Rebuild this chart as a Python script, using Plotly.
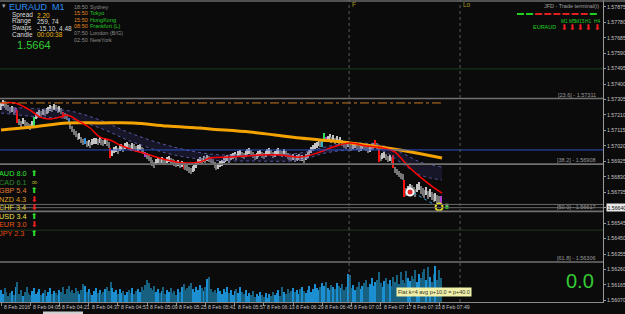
import plotly.graph_objects as go

# ---------------- data ----------------
minutes = list(range(242))
high = [1.57284,1.57302,1.57296,1.57277,1.57271,1.57259,1.57265,1.57253,1.57253,1.57240,
1.57185,1.57173,1.57191,1.57179,1.57167,1.57161,1.57154,1.57173,1.57197,1.57222,
1.57228,1.57240,1.57234,1.57247,1.57240,1.57253,1.57259,1.57271,1.57265,1.57277,
1.57271,1.57259,1.57265,1.57253,1.57228,1.57222,1.57216,1.57191,1.57167,1.57142,
1.57124,1.57111,1.57093,1.57099,1.57074,1.57062,1.57068,1.57050,1.57056,1.57044,
1.57062,1.57068,1.57068,1.57062,1.57074,1.57062,1.57056,1.57068,1.57056,1.57044,
1.57007,1.56995,1.57013,1.57019,1.57007,1.57025,1.57031,1.57019,1.57038,1.57044,
1.57031,1.57025,1.57038,1.57031,1.57019,1.57025,1.57031,1.57013,1.57007,1.56982,
1.56976,1.56964,1.56951,1.56933,1.56921,1.56939,1.56951,1.56945,1.56951,1.56945,
1.56939,1.56951,1.56958,1.56945,1.56939,1.56933,1.56927,1.56933,1.56921,1.56927,
1.56921,1.56908,1.56902,1.56890,1.56884,1.56896,1.56902,1.56921,1.56939,1.56951,
1.56945,1.56958,1.56951,1.56964,1.56958,1.56951,1.56939,1.56921,1.56908,1.56915,
1.56927,1.56933,1.56951,1.56958,1.56964,1.56951,1.56970,1.56976,1.56982,1.56970,
1.56988,1.56995,1.56982,1.56976,1.56988,1.57001,1.57007,1.56995,1.56982,1.56970,
1.56976,1.56988,1.56995,1.56982,1.56976,1.56988,1.57001,1.57007,1.56995,1.56982,
1.56988,1.57001,1.57007,1.56995,1.56988,1.57001,1.56988,1.56976,1.56970,1.56964,
1.56970,1.56958,1.56964,1.56970,1.56964,1.56964,1.56951,1.56970,1.56982,1.56995,
1.57013,1.57025,1.57038,1.57044,1.57056,1.57050,1.57062,1.57099,1.57074,1.57081,
1.57093,1.57074,1.57087,1.57068,1.57081,1.57062,1.57074,1.57056,1.57044,1.57038,
1.57050,1.57031,1.57025,1.57038,1.57044,1.57031,1.57019,1.57025,1.57038,1.57031,
1.57025,1.57013,1.57019,1.57031,1.57038,1.57056,1.57038,1.57007,1.56964,1.56976,
1.56982,1.56970,1.56958,1.56964,1.56951,1.56964,1.56890,1.56878,1.56865,1.56853,
1.56847,1.56810,1.56761,1.56773,1.56785,1.56779,1.56767,1.56755,1.56785,1.56798,
1.56773,1.56761,1.56749,1.56767,1.56742,1.56755,1.56736,1.56724,1.56730,1.56718,
1.56712,1.56712]
low = [1.57240,1.57265,1.57253,1.57240,1.57234,1.57222,1.57228,1.57216,1.57222,1.57161,
1.57148,1.57136,1.57154,1.57142,1.57130,1.57124,1.57118,1.57136,1.57136,1.57185,
1.57191,1.57204,1.57197,1.57210,1.57204,1.57216,1.57222,1.57234,1.57228,1.57240,
1.57234,1.57222,1.57228,1.57216,1.57191,1.57185,1.57179,1.57161,1.57124,1.57105,
1.57087,1.57074,1.57056,1.57062,1.57038,1.57025,1.57031,1.57013,1.57019,1.57007,
1.57025,1.57031,1.57031,1.57025,1.57038,1.57025,1.57019,1.57031,1.57019,1.57007,
1.56945,1.56958,1.56976,1.56982,1.56970,1.56988,1.56995,1.56982,1.57001,1.57007,
1.56995,1.56988,1.57001,1.56995,1.56982,1.56988,1.56995,1.56976,1.56970,1.56951,
1.56939,1.56927,1.56915,1.56896,1.56884,1.56902,1.56915,1.56908,1.56915,1.56908,
1.56902,1.56915,1.56921,1.56908,1.56902,1.56896,1.56890,1.56896,1.56884,1.56890,
1.56878,1.56872,1.56865,1.56853,1.56847,1.56859,1.56865,1.56884,1.56902,1.56915,
1.56908,1.56921,1.56915,1.56927,1.56921,1.56915,1.56902,1.56884,1.56872,1.56878,
1.56890,1.56896,1.56915,1.56921,1.56927,1.56915,1.56933,1.56939,1.56945,1.56933,
1.56951,1.56958,1.56945,1.56939,1.56951,1.56964,1.56970,1.56958,1.56945,1.56933,
1.56939,1.56951,1.56958,1.56945,1.56939,1.56951,1.56964,1.56970,1.56958,1.56945,
1.56951,1.56964,1.56970,1.56958,1.56951,1.56964,1.56951,1.56939,1.56933,1.56927,
1.56933,1.56921,1.56927,1.56933,1.56927,1.56927,1.56915,1.56933,1.56945,1.56958,
1.56976,1.56988,1.57001,1.57007,1.57019,1.57013,1.57013,1.57044,1.57044,1.57044,
1.57056,1.57038,1.57050,1.57031,1.57044,1.57025,1.57038,1.57019,1.57007,1.57001,
1.57013,1.56995,1.56988,1.57001,1.57007,1.56995,1.56982,1.56988,1.57001,1.56995,
1.56988,1.56976,1.56982,1.56995,1.57001,1.57007,1.57001,1.56921,1.56927,1.56939,
1.56945,1.56933,1.56921,1.56927,1.56915,1.56884,1.56853,1.56841,1.56829,1.56816,
1.56810,1.56705,1.56712,1.56724,1.56736,1.56730,1.56718,1.56705,1.56736,1.56749,
1.56724,1.56712,1.56699,1.56718,1.56693,1.56705,1.56687,1.56675,1.56681,1.56669,
1.56663,1.56656]
volume = [36,24,42,30,18,27,33,21,45,60, 24,36,18,30,45,27,21,33,42,24,
30,39,21,27,36,18,30,42,24,33, 27,21,36,30,45,24,39,48,30,36,
27,42,33,24,36,54,48,30,39,27, 21,33,42,27,36,24,30,39,45,33,
60,42,30,36,24,39,27,33,21,30, 36,27,42,24,33,39,30,45,36,51,
66,57,42,36,48,30,39,27,33,45, 24,36,30,42,27,33,21,39,30,45,
54,36,42,48,57,39,30,45,36,51, 42,33,45,69,75,39,30,36,27,42,
33,24,39,30,45,27,36,21,33,39, 27,45,30,24,36,18,27,21,33,15,
24,18,30,21,15,27,12,24,18,30, 21,27,36,18,45,30,24,39,27,33,
42,30,36,24,39,45,33,27,36,48, 30,39,54,42,36,45,57,48,60,42,
36,51,45,39,57,48,42,54,36,45, 84,81,42,51,36,45,60,39,48,57,
66,45,54,72,48,60,66,90,57,45, 63,72,54,66,48,75,60,81,54,90,
66,57,93,72,63,78,69,96,60,84, 72,90,99,66,105,75,60,84,108,66,
96,72]

ma_slow_t = [0, 17.5, 36.2, 54.2, 72.3, 91, 109, 114.5, 136.4, 150.1, 163.8, 191.2, 218.6, 241.6]
ma_slow = [1.57118, 1.57136, 1.57161, 1.57161, 1.57161, 1.57142, 1.57130, 1.57124, 1.57105, 1.57087, 1.57068, 1.57038, 1.56995, 1.56945]
ma_fast_t = [0, 7.7, 15.9, 21.4, 26.8, 32.3, 36.2, 43.3, 48.8, 54.2, 59.7, 65.2, 72.3, 81.6, 91, 99.7, 109, 114.5,
             125.5, 141.9, 152.9, 163.8, 174.8, 181.9, 191.2, 200.5, 209.3, 215.9, 218.6, 224.1, 229.6, 236.7, 241.6]
ma_fast = [1.57284, 1.57284, 1.57240, 1.57197, 1.57185, 1.57197, 1.57210, 1.57167, 1.57130, 1.57074, 1.57056, 1.57025,
           1.56995, 1.56964, 1.56933, 1.56915, 1.56921, 1.56945, 1.56951, 1.56964, 1.56964, 1.56951, 1.56982, 1.57013,
           1.57038, 1.57019, 1.57007, 1.56982, 1.56951, 1.56884, 1.56829, 1.56767, 1.56730]
band_t = [0, 21.4, 37.8, 54.2, 70.7, 92.6, 114.5, 136.4, 163.8, 177.5, 191.2, 207.7, 218.6, 229.6, 241.6]
band_upper = [1.57259, 1.57247, 1.57234, 1.57179, 1.57099, 1.57019, 1.56970, 1.56964, 1.56976, 1.57013, 1.57038, 1.57025, 1.56982, 1.56921, 1.56890]
band_lower = [1.57222, 1.57197, 1.57185, 1.57130, 1.57050, 1.56970, 1.56933, 1.56927, 1.56933, 1.56976, 1.56995, 1.56995, 1.56921, 1.56841, 1.56810]

price_ticks = [1.57875, 1.57780, 1.57685, 1.57590, 1.57495, 1.57400, 1.57305, 1.57210, 1.57115, 1.57020,
               1.56925, 1.56830, 1.56735, 1.56640, 1.56545, 1.56450, 1.56355, 1.56260, 1.56165, 1.56070]
time_tick_minutes = [0, 16, 32, 48, 64, 80, 96, 112, 128, 144, 160, 176, 192, 208, 224, 240]
time_tick_labels = ["8 Feb 2016", "8 Feb 04:05", "8 Feb 04:21", "8 Feb 04:37", "8 Feb 04:53", "8 Feb 05:09",
                    "8 Feb 05:25", "8 Feb 05:41", "8 Feb 05:57", "8 Feb 06:13", "8 Feb 06:29", "8 Feb 06:45",
                    "8 Feb 07:01", "8 Feb 07:17", "8 Feb 07:33", "8 Feb 07:49"]
fib_levels = [1.57311, 1.56908, 1.56617, 1.56306]
fib_names = ["23.6", "38.2", "50.0", "61.8"]
bid_price = 1.56640
support_lines = [1.56660, 1.56640]
green_levels = [1.57493, 1.56502]
blue_level = 1.56995
pivot_level = 1.57284
f_line_minute = 190.7
lo_line_minute = 251.5
entry_point = (224.1, 1.56736)
exit_point = (240.0, 1.56644)

currencies = ["AUD", "CAD", "GBP", "NZD", "CHF", "USD", "EUR", "JPY"]
strength = [8.0, 6.1, 5.4, 4.3, 3.4, 3.4, 3.0, 2.3]
trend = ["up", "flat", "up", "down", "down", "up", "down", "up"]
session_times = ["18:50", "15:50", "15:50", "08:50", "07:50", "02:50"]
session_names = ["Sydney", "Tokyo", "HongKong", "Frankfurt (L)", "London (B/G)", "NewYork"]
session_open = [False, True, True, True, False, False]
tf_names = ["M1", "M5", "M15", "H1", "H4"]
signal_bars = ["g", "g", "r", "r", "r", "r", "r", "r", "g"]

# ---------------- styling helpers ----------------
W, H = 625, 314
PW, PH = 603, 302
BG = "#0b0b0b"
FONT = "Liberation Sans, Arial, sans-serif"

def fx(px):
    return px / PW

def fy(py):
    return 1 - py / PH

annotations = []
shapes = []

def txt(s, x, y, color, size, xanchor="left", family=FONT, bg=None):
    a = dict(text=s, x=fx(x), y=fy(y), xref="paper", yref="paper",
             showarrow=False, xanchor=xanchor, yanchor="middle",
             font=dict(color=color, size=size, family=family), borderpad=0)
    if bg:
        a["bgcolor"] = bg
        a["borderpad"] = 1
    annotations.append(a)

fig = go.Figure()

# band (fill)
fig.add_trace(go.Scatter(x=band_t, y=band_lower, mode="lines", line=dict(color="#5656a0", width=1, dash="dot", shape="spline"),
                         hoverinfo="skip", showlegend=False))
fig.add_trace(go.Scatter(x=band_t, y=band_upper, mode="lines", line=dict(color="#5656a0", width=1, dash="dot", shape="spline"),
                         fill="tonexty", fillcolor="rgba(55,55,120,0.28)", hoverinfo="skip", showlegend=False))

# volume bars
mid = [(h + l) / 2 for h, l in zip(high, low)]
vol_colors = ["#1b8fd2" if i == 0 or mid[i] >= mid[i - 1] else "#17607f" for i in range(len(mid))]
fig.add_trace(go.Bar(x=minutes, y=volume, yaxis="y2", marker=dict(color=vol_colors, line=dict(width=0)),
                     width=0.55, hoverinfo="skip", showlegend=False))

# candles (range bars)
special = {8: "#b040d0", 9: "#ff1010", 18: "#30e060", 34: "#ff1010", 37: "#3090e0", 46: "#3090e0",
           60: "#ff1010", 79: "#b040d0", 100: "#ff1010", 176: "#30b0c8", 177: "#30e060", 178: "#b040d0",
           205: "#ff1010", 207: "#ff1010", 215: "#ff1010", 221: "#ff1010", 241: "#b040d0"}
cand_colors = []
for i in range(len(mid)):
    if i in special:
        cand_colors.append(special[i])
    elif i == 0 or mid[i] >= mid[i - 1]:
        cand_colors.append("#c4c4c4")
    else:
        cand_colors.append("#767676")
fig.add_trace(go.Bar(x=minutes, y=[h - l for h, l in zip(high, low)], base=low,
                     marker=dict(color=cand_colors, line=dict(width=0)), width=0.58,
                     hoverinfo="skip", showlegend=False))

# moving averages
fig.add_trace(go.Scatter(x=ma_slow_t, y=ma_slow, mode="lines", line=dict(color="#f5a300", width=3, shape="spline"),
                         hoverinfo="skip", showlegend=False))
fig.add_trace(go.Scatter(x=ma_fast_t, y=ma_fast, mode="lines", line=dict(color="#ff0000", width=1.5, shape="spline"),
                         hoverinfo="skip", showlegend=False))

# trade markers
fig.add_trace(go.Scatter(x=[entry_point[0] + 2, exit_point[0] - 1.5], y=[entry_point[1] - 0.00005, exit_point[1] + 0.00008],
                         mode="lines", line=dict(color="#2aa0e0", width=1, dash="dot"), hoverinfo="skip", showlegend=False))
fig.add_trace(go.Scatter(x=[entry_point[0]], y=[entry_point[1]], mode="markers",
                         marker=dict(symbol="circle", size=7, color="#e02828", line=dict(color="#ffffff", width=2)),
                         hoverinfo="skip", showlegend=False))
fig.add_trace(go.Scatter(x=[exit_point[0]], y=[exit_point[1]], mode="markers",
                         marker=dict(symbol="circle-open", size=7, color="#f0e020", line=dict(width=2)),
                         hoverinfo="skip", showlegend=False))
fig.add_trace(go.Scatter(x=[exit_point[0] + 4.3, exit_point[0] + 4.3], y=[exit_point[1] + 0.00012, exit_point[1] - 0.00002],
                         mode="markers", marker=dict(symbol="square", size=3, color=["#909090", "#20e020"]),
                         hoverinfo="skip", showlegend=False))

# horizontal lines
for lv in green_levels:
    shapes.append(dict(type="line", xref="paper", x0=0, x1=1, yref="y", y0=lv, y1=lv, line=dict(color="#1d3d1d", width=1)))
shapes.append(dict(type="line", xref="paper", x0=0, x1=1, yref="y", y0=blue_level, y1=blue_level, line=dict(color="#2c50c8", width=1)))
shapes.append(dict(type="line", xref="x", x0=-0.55, x1=241, yref="y", y0=pivot_level, y1=pivot_level,
                   line=dict(color="#c87a20", width=1, dash="dashdot")))
for lv in support_lines:
    shapes.append(dict(type="line", xref="paper", x0=0, x1=1, yref="y", y0=lv, y1=lv, line=dict(color="#6a6a6a", width=1)))
for lv, nm in zip(fib_levels, fib_names):
    shapes.append(dict(type="line", xref="paper", x0=0, x1=1, yref="y", y0=lv, y1=lv, line=dict(color="#707070", width=1.6)))
    annotations.append(dict(text="[%s] - %.5f" % (nm, lv), x=fx(598), xref="paper", y=lv, yref="y", yshift=4,
                            showarrow=False, xanchor="right", yanchor="middle",
                            font=dict(color="#9a9a9a", size=5.5, family=FONT)))

# vertical dotted lines
for m in (f_line_minute, lo_line_minute):
    shapes.append(dict(type="line", xref="x", x0=m, x1=m, yref="paper", y0=0, y1=1, line=dict(color="#5a5a5a", width=1, dash="dot")))
txt("F", 351, 5, "#a89a20", 6.5)
txt("Lo", 462, 5, "#a89a20", 6.5)

# top border
shapes.append(dict(type="line", xref="paper", x0=0, x1=W / PW, yref="paper", y0=fy(1), y1=fy(1), line=dict(color="#6a6a6a", width=1.5)))
# scrollbar thumb
shapes.append(dict(type="rect", xref="paper", x0=fx(43), x1=fx(83), yref="paper", y0=fy(311.5), y1=fy(314), fillcolor="#d0d0d0", line=dict(width=0)))

# info panel
txt("▾", 1, 6, "#a0a0a0", 7)
txt("EURAUD  M1", 8, 7, "#2d8cf0", 9)
info_labels = ["Spread", "Range", "Swaps", "Candle"]
info_values = ["2.20", "259, 74", "-15.10, 4.48", "00:00:38"]
info_colors = ["#e8b818", "#d8d8d8", "#d8d8d8", "#e8b818"]
for k, (lb, vv, cc) in enumerate(zip(info_labels, info_values, info_colors)):
    yy = 15 + k * 6.5
    txt(lb, 11, yy, "#dcdcdc", 6.5)
    txt(vv, 36, yy, cc, 6.5)
txt("1.5664", 16, 45, "#33cc33", 11)

for k, (tt, nm, op) in enumerate(zip(session_times, session_names, session_open)):
    yy = 7 + k * 6.5
    txt(tt, 73, yy, "#e0841c" if op else "#8a8a8a", 5.5)
    txt(nm, 89, yy, "#22c822" if op else "#8a8a8a", 5.5)

# currency strength
cur_colors = ["#2ee82e", "#2a8c2a", "#e07a30", "#e0a020", "#e0d040", "#f0e050", "#e85a18", "#e84a10"]
arrow_sym = {"up": "⬆", "down": "⬇", "flat": "∞"}
arrow_col = {"up": "#30e030", "down": "#f02020", "flat": "#a0a020"}
for k, (c, s, tr, col) in enumerate(zip(currencies, strength, trend, cur_colors)):
    yy = 174 + k * 8.45
    txt("%s %.1f" % (c, s), -2, yy, col, 7.3)
    txt(arrow_sym[tr], 34, yy, arrow_col[tr], 8, xanchor="center", family="DejaVu Sans")

# top-right panel
txt("JFD - Trade terminal(i)", 600, 6, "#a0a0a0", 5.5, xanchor="right")
for k, sg in enumerate(signal_bars):
    x0 = 517 + k * 9.1
    shapes.append(dict(type="rect", xref="paper", yref="paper", x0=fx(x0), x1=fx(x0 + 7), y0=fy(15), y1=fy(13),
                       fillcolor="#22d022" if sg == "g" else "#e02020", line=dict(width=0)))
tf_x = [564, 572, 580, 588, 597]
for xx, nm in zip(tf_x, tf_names):
    txt(nm, xx, 21, "#20d020", 4.8, xanchor="center")
    txt("⬇", xx, 27.5, "#f02020", 8, xanchor="center", family="DejaVu Sans")
txt("EURAUD", 557, 27.5, "#20d020", 5.5, xanchor="right")

# bottom right big value & label
txt("0.0", 580, 281, "#33cc33", 20, xanchor="center")
txt("Flat k&lt;4 avg p+10.0 = p+40.0", 396, 292, "#303030", 5.5, bg="#f0f0a8")

# time labels
for m, lb in zip(time_tick_minutes, time_tick_labels):
    annotations.append(dict(text=lb, x=m, xref="x", y=0, yref="paper", yshift=-5, xshift=1, showarrow=False,
                            xanchor="left", yanchor="middle", font=dict(color="#c0c0c0", size=5.2, family=FONT)))

# bid price box
annotations.append(dict(text="%.5f" % bid_price, x=1, xref="paper", xshift=3, y=bid_price, yref="y", showarrow=False,
                        xanchor="left", yanchor="middle", bgcolor="#e8e8e8", borderpad=0.5,
                        font=dict(color="#101010", size=5.2, family=FONT)))

fig.update_layout(
    width=W, height=H, margin=dict(l=0, r=W - PW, t=0, b=H - PH),
    paper_bgcolor=BG, plot_bgcolor=BG, barmode="overlay", bargap=0, showlegend=False,
    xaxis=dict(range=[-0.55, 329.8], showgrid=False, zeroline=False, showline=True, linecolor="#8a8a8a", linewidth=1,
               tickvals=time_tick_minutes, ticks="outside", ticklen=3, tickcolor="#8a8a8a", showticklabels=False, fixedrange=True),
    yaxis=dict(range=[1.56060, 1.57917], side="right", showgrid=False, zeroline=False, showline=True, linecolor="#9a9a9a",
               tickvals=price_ticks, ticktext=["%.5f" % v for v in price_ticks], ticks="outside", ticklen=2,
               tickcolor="#9a9a9a", tickfont=dict(color="#c4c4c4", size=5.2, family=FONT), fixedrange=True),
    yaxis2=dict(range=[0, 906], overlaying="y", visible=False, fixedrange=True),
    annotations=annotations, shapes=shapes,
)

fig.write_html("out.html")
